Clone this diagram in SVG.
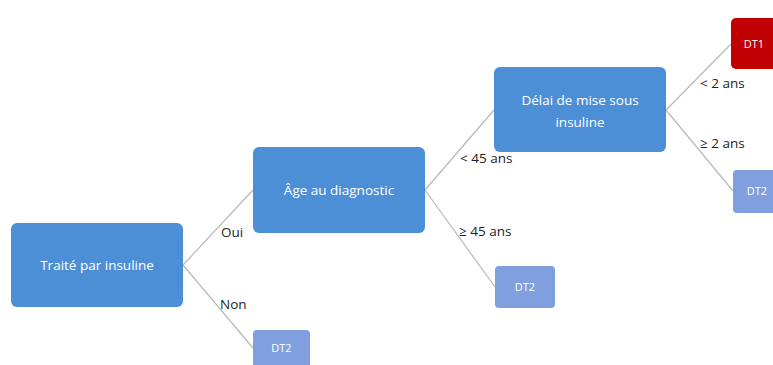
<svg xmlns="http://www.w3.org/2000/svg" width="773" height="365" viewBox="0 0 773 365">
<style>
.n{fill:#4d8fd6}
.l{fill:#7f9fdf}
.r{fill:#c00000}
.t{font-family:"Open Sans",sans-serif;font-size:13.5px;fill:#ffffff;text-anchor:middle}
.s{font-family:"Open Sans",sans-serif;font-size:11px;fill:#ffffff;text-anchor:middle}
.e{font-family:"Open Sans",sans-serif;font-size:13.5px;fill:#222222}
.c{stroke:#b8b8b8;stroke-width:1.2;fill:none}
</style>
<rect width="773" height="365" fill="#ffffff"/>
<g id="connectors">
<line class="c" x1="183" y1="265" x2="253" y2="190"/>
<line class="c" x1="183" y1="265" x2="253" y2="348"/>
<line class="c" x1="425" y1="190" x2="494" y2="110"/>
<line class="c" x1="425" y1="190" x2="495" y2="287"/>
<line class="c" x1="666" y1="110" x2="731" y2="44"/>
<line class="c" x1="666" y1="110" x2="733" y2="191"/>
<text class="e" x="221" y="237">Oui</text>
<text class="e" x="220" y="309">Non</text>
<text class="e" x="460" y="163">&lt; 45 ans</text>
<text class="e" x="459" y="236">≥ 45 ans</text>
<text class="e" x="700" y="88">&lt; 2 ans</text>
<text class="e" x="700" y="148">≥ 2 ans</text>
</g>
<g id="n1">
<rect class="n" x="11" y="223" width="172" height="84" rx="6"/>
<text class="t" x="97" y="270">Traité par insuline</text>
</g>
<g id="n2">
<rect class="n" x="253" y="147" width="172" height="86" rx="6"/>
<text class="t" x="339" y="195">Âge au diagnostic</text>
</g>
<g id="n3">
<rect class="l" x="253" y="330" width="57" height="42" rx="4"/>
<text class="s" x="281.5" y="352">DT2</text>
</g>
<g id="n4">
<rect class="n" x="494" y="67" width="172" height="85" rx="6"/>
<text class="t" x="580" y="105">Délai de mise sous</text>
<text class="t" x="580" y="127">insuline</text>
</g>
<g id="n5">
<rect class="l" x="495" y="266" width="60" height="42" rx="4"/>
<text class="s" x="525" y="291">DT2</text>
</g>
<g id="n6">
<rect class="r" x="731" y="18" width="60" height="51" rx="5"/>
<text class="s" x="754" y="48">DT1</text>
</g>
<g id="n7">
<rect class="l" x="733" y="170" width="60" height="43" rx="4"/>
<text class="s" x="757" y="195">DT2</text>
</g>
</svg>
